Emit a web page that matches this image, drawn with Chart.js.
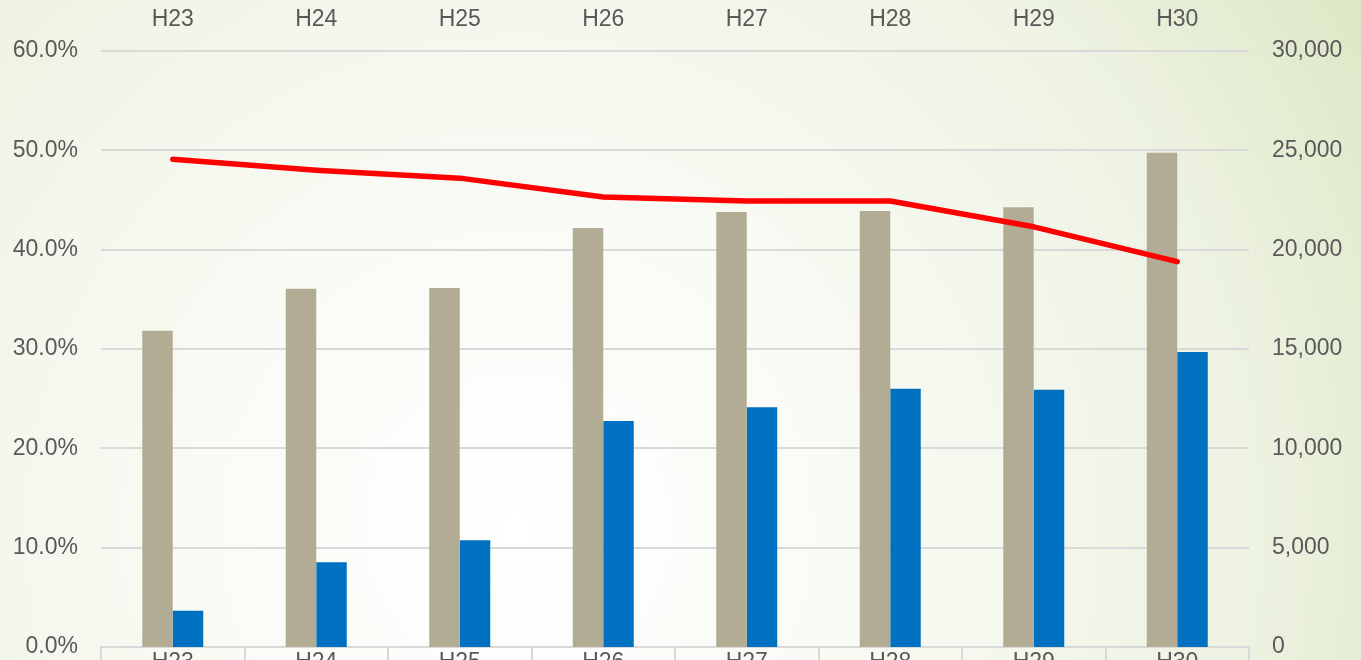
<!DOCTYPE html>
<html>
<head>
<meta charset="utf-8">
<script src="https://cdn.jsdelivr.net/npm/chart.js@4"></script>
<style>
  html, body {
    margin: 0;
    padding: 0;
    width: 1361px;
    height: 660px;
    overflow: hidden;
  }
  body {
    background: radial-gradient(circle at 38% 80%, #ffffff 0px, #fafbf6 300px, #eef3e3 720px, #dde7c5 1000px);
  }
  #wrap { width: 1361px; height: 700px; }
</style>
</head>
<body>
<div id="wrap">
  <canvas id="grafico" width="1361" height="700"></canvas>
</div>
<script>
// dados
const anos = ['H23', 'H24', 'H25', 'H26', 'H27', 'H28', 'H29', 'H30'];
const serieBege = [15920, 18030, 18070, 21090, 21900, 21950, 22130, 24880];
const serieAzul = [1830, 4260, 5370, 11380, 12070, 13000, 12950, 14850];
const serieTaxa = [49.1, 48.0, 47.2, 45.3, 44.9, 44.9, 42.3, 38.8];

const corTexto = '#595959';
const corGrade = '#d9d9d9';

Chart.defaults.color = corTexto;
Chart.defaults.font.family = '"Liberation Sans", Arial, sans-serif';
Chart.defaults.font.size = 23;

const ctx = document.getElementById('grafico').getContext('2d');

new Chart(ctx, {
  data: {
    labels: anos,
    datasets: [
      {
        type: 'line',
        data: serieTaxa,
        yAxisID: 'y',
        xAxisID: 'x',
        borderColor: '#ff0000',
        borderWidth: 5.5,
        borderCapStyle: 'round',
        borderJoinStyle: 'round',
        pointRadius: 0,
        tension: 0,
        order: 0
      },
      {
        type: 'bar',
        data: serieBege,
        yAxisID: 'y2',
        xAxisID: 'x',
        backgroundColor: '#b2ac94',
        barPercentage: 1,
        categoryPercentage: 0.425,
        order: 1
      },
      {
        type: 'bar',
        data: serieAzul,
        yAxisID: 'y2',
        xAxisID: 'x',
        backgroundColor: '#0070c0',
        barPercentage: 1,
        categoryPercentage: 0.425,
        order: 1
      }
    ]
  },
  options: {
    responsive: false,
    animation: false,
    layout: { padding: 0 },
    plugins: {
      legend: { display: false },
      tooltip: { enabled: false }
    },
    scales: {
      x: {
        type: 'category',
        position: 'bottom',
        offset: true,
        grid: {
          offset: true,
          drawOnChartArea: false,
          drawTicks: true,
          tickLength: 40,
          color: corGrade,
          lineWidth: 2
        },
        border: { display: true, color: corGrade, width: 2 },
        ticks: { padding: -38, maxRotation: 0, autoSkip: false },
        afterFit: s => { s.height = 53; }
      },
      xTopo: {
        type: 'category',
        position: 'top',
        labels: anos,
        offset: true,
        grid: { display: false, drawTicks: false },
        border: { display: false },
        ticks: { padding: 18, maxRotation: 0, autoSkip: false },
        afterFit: s => { s.height = 51; }
      },
      y: {
        position: 'left',
        min: 0,
        max: 60,
        grid: { color: corGrade, lineWidth: 2, drawTicks: false },
        border: { display: false },
        ticks: {
          stepSize: 10,
          padding: 23,
          callback: v => v.toFixed(1) + '%'
        },
        afterFit: s => { s.width = 101; }
      },
      y2: {
        position: 'right',
        min: 0,
        max: 30000,
        grid: { display: false, drawTicks: false },
        border: { display: false },
        ticks: {
          stepSize: 5000,
          padding: 23,
          callback: v => v.toLocaleString('en-US')
        },
        afterFit: s => { s.width = 112; }
      }
    }
  }
});
</script>
</body>
</html>
